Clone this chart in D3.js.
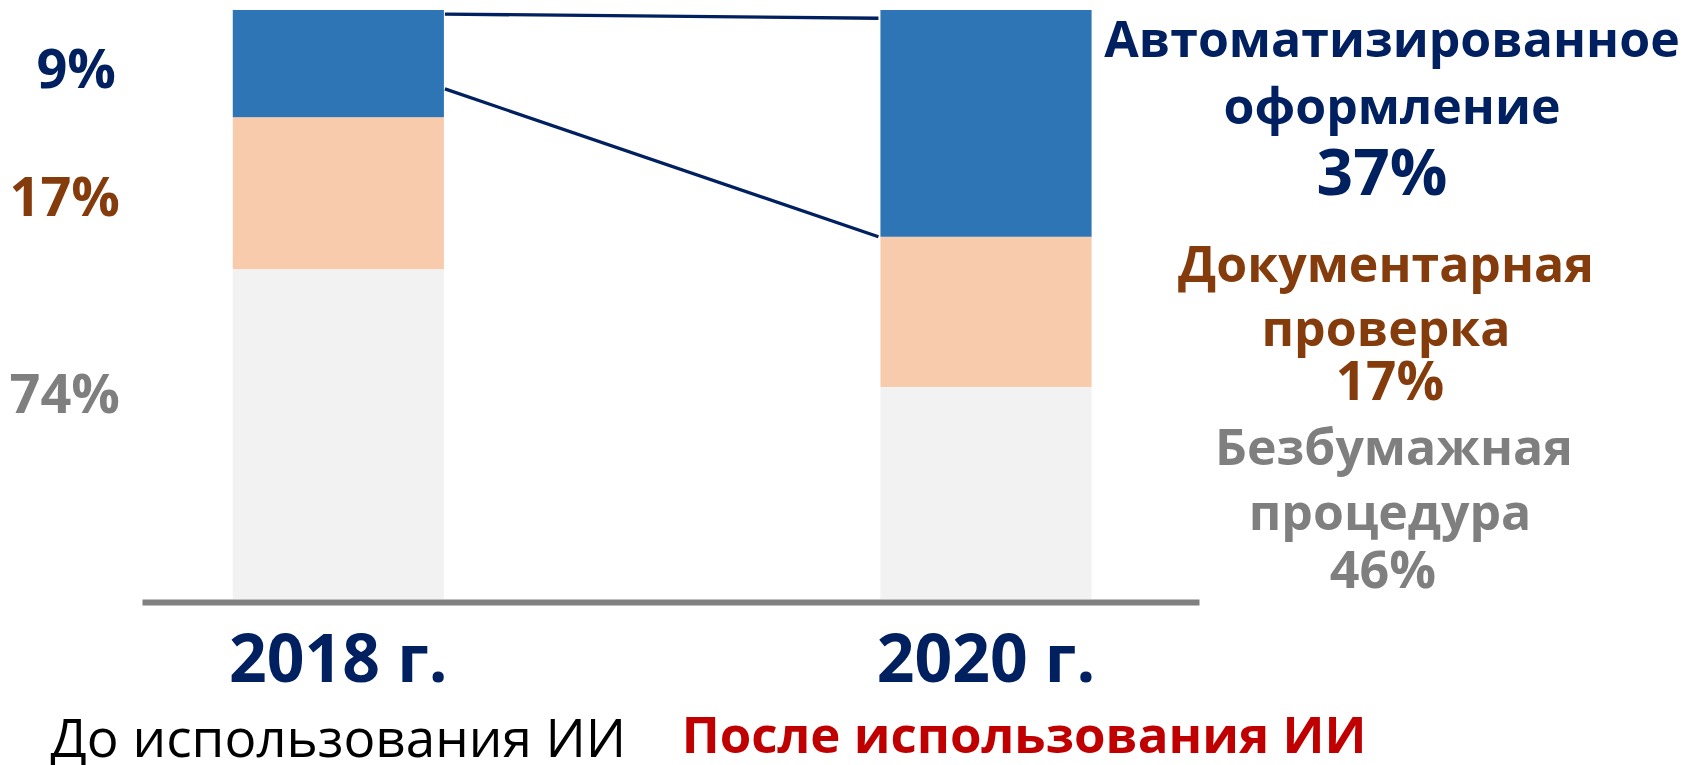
<!DOCTYPE html>
<html>
<head>
<meta charset="utf-8">
<script src="https://cdn.jsdelivr.net/npm/d3@7"></script>
<style>
  html, body { margin: 0; padding: 0; background: #ffffff; }
  svg { display: block; font-family: 'Open Sans', 'Noto Sans', sans-serif; }
</style>
</head>
<body>
<div id="chart"></div>
<script>
// years on the x axis and the line under each of them
const years = ['2018 г.', '2020 г.'];
const subtitles = ['До использования ИИ', 'После использования ИИ'];

// stack keys, bottom to top
const keys = ['paperless', 'documentary', 'automated'];
const categoryLines = {
  automated: ['Автоматизированное', 'оформление'],
  documentary: ['Документарная', 'проверка'],
  paperless: ['Безбумажная', 'процедура']
};

// segment heights as drawn, share of the bar
const paperless = [56.0, 36.0];
const documentary = [25.8, 25.5];
const automated = [18.2, 38.5];

// value labels as printed
const paperlessLabels = ['74%', '46%'];
const documentaryLabels = ['17%', '17%'];
const automatedLabels = ['9%', '37%'];

// connector lines between the bars
const connectorTop = [99.3, 98.6];
const connectorLow = [86.6, 61.5];

const colors = { automated: '#2E75B6', documentary: '#F8CBAD', paperless: '#F2F2F2' };
const textColors = { automated: '#002060', documentary: '#843C0C', paperless: '#7F7F7F' };

const svgWidth = 1690;
const svgHeight = 765;
const baseY = 599;

let svg = d3.select('#chart').append('svg')
  .attr('width', svgWidth)
  .attr('height', svgHeight);

// scales
let xScale = d3.scaleBand()
  .domain(years)
  .range([142, 1199])
  .paddingInner(0.674)
  .paddingOuter(0.153)
  .align(0.458);
let yScale = d3.scaleLinear().domain([0, 100]).range([baseY, 10]);

// table for the stack
let rows = years.map((yr, i) => ({
  year: yr,
  paperless: paperless[i],
  documentary: documentary[i],
  automated: automated[i]
}));
let series = d3.stack().keys(keys)(rows);

// bars
svg.append('g')
  .selectAll('g')
  .data(series)
  .enter()
  .append('g')
  .attr('fill', d => colors[d.key])
  .selectAll('rect')
  .data(d => d)
  .enter()
  .append('rect')
  .attr('x', d => xScale(d.data.year))
  .attr('y', d => yScale(d[1]))
  .attr('width', xScale.bandwidth())
  .attr('height', d => yScale(d[0]) - yScale(d[1]));

// connector lines
let line = d3.line()
  .x(d => d.x)
  .y(d => yScale(d.v));
[connectorTop, connectorLow].forEach(conn => {
  let pts = [
    { x: xScale(years[0]) + xScale.bandwidth() + 1, v: conn[0] },
    { x: xScale(years[1]) - 2, v: conn[1] }
  ];
  svg.append('path')
    .attr('d', line(pts))
    .attr('stroke', '#002060')
    .attr('stroke-width', 3.3)
    .attr('fill', 'none');
});

// x axis line
let xAxis = svg.append('g')
  .attr('transform', `translate(0, ${baseY + 3})`)
  .call(d3.axisBottom(xScale).tickSize(0).tickSizeOuter(0).tickFormat(''));
xAxis.select('.domain')
  .attr('stroke', '#808080')
  .attr('stroke-width', 6);

// year labels under the bars
years.forEach(yr => {
  svg.append('text')
    .attr('x', xScale(yr) + xScale.bandwidth() / 2)
    .attr('y', baseY + 83)
    .attr('text-anchor', 'middle')
    .attr('fill', '#002060')
    .attr('font-size', '66px')
    .attr('font-weight', 700)
    .text(yr);
});

// subtitle under each year
subtitles.forEach((s, i) => {
  svg.append('text')
    .attr('x', xScale(years[i]) + xScale.bandwidth() / 2 + (i === 0 ? 0 : 38))
    .attr('y', i === 0 ? 757 : 753)
    .attr('text-anchor', 'middle')
    .attr('font-size', i === 0 ? '53px' : '51px')
    .attr('font-weight', i === 0 ? 400 : 700)
    .attr('fill', i === 0 ? '#000000' : '#C00000')
    .text(s);
});

// left value labels for 2018
const leftLabels = { paperless: paperlessLabels, documentary: documentaryLabels, automated: automatedLabels };
const leftShift = { paperless: -21, documentary: 23, automated: 24 };
series.forEach(s => {
  let seg = s[0];
  let mid = (yScale(seg[0]) + yScale(seg[1])) / 2;
  svg.append('text')
    .attr('x', s.key === 'automated' ? 116 : 120)
    .attr('y', mid + leftShift[s.key])
    .attr('text-anchor', 'end')
    .attr('font-size', '54px')
    .attr('font-weight', 700)
    .attr('fill', textColors[s.key])
    .text(leftLabels[s.key][0]);
});

// right labels for 2020
const rightBlocks = [
  { key: 'automated', base: [57, 124, 195], size: [50, 50, 64], cx: [1392, 1392, 1382] },
  { key: 'documentary', base: [282, 346, 400], size: [50, 50, 53], cx: [1386, 1386, 1390] },
  { key: 'paperless', base: [465, 530, 588], size: [50, 50, 52], cx: [1394, 1390, 1383] }
];
rightBlocks.forEach(b => {
  let texts = categoryLines[b.key].concat([leftLabels[b.key][1]]);
  texts.forEach((t, j) => {
    svg.append('text')
      .attr('x', b.cx[j])
      .attr('y', b.base[j])
      .attr('text-anchor', 'middle')
      .attr('font-size', b.size[j] + 'px')
      .attr('font-weight', 700)
      .attr('fill', textColors[b.key])
      .text(t);
  });
});
</script>
</body>
</html>
